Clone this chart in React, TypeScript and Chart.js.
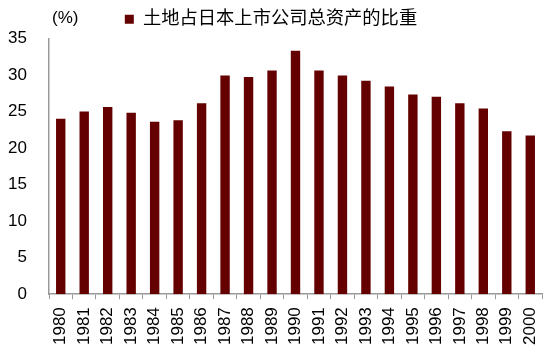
import React, { useEffect, useRef } from "react";
import { Chart, registerables } from "chart.js";

Chart.register(...registerables);

const categories = ["1980","1981","1982","1983","1984","1985","1986","1987","1988","1989","1990","1991","1992","1993","1994","1995","1996","1997","1998","1999","2000"];
const landShare = [24.0, 25.0, 25.6, 24.8, 23.6, 23.8, 26.1, 29.9, 29.7, 30.6, 33.3, 30.6, 29.9, 29.2, 28.4, 27.3, 27.0, 26.1, 25.4, 22.3, 21.7];
const seriesName = "土地占日本上市公司总资产的比重";
const unitLabel = "(%)";

const FONT = "Arial, 'Liberation Sans', 'Noto Sans CJK SC', sans-serif";

const unitPlugin = {
  id: "unitLabel",
  afterDraw(chart: any) {
    const ctx = chart.ctx;
    ctx.save();
    ctx.font = `17px ${FONT}`;
    ctx.fillStyle = "#000";
    ctx.textBaseline = "middle";
    ctx.textAlign = "left";
    ctx.fillText(unitLabel, 52, 18);
    ctx.restore();
  },
};

export default function App() {
  const ref = useRef<HTMLCanvasElement>(null);
  useEffect(() => {
    if (!ref.current) return;
    const chart = new Chart(ref.current, {
      type: "bar",
      data: {
        labels: categories,
        datasets: [
          {
            label: seriesName,
            data: landShare,
            backgroundColor: "#640000",
            borderWidth: 0,
            barPercentage: 0.4,
            categoryPercentage: 1,
          },
        ],
      },
      plugins: [unitPlugin],
      options: {
        animation: false,
        responsive: false,
        layout: { padding: { left: 0, right: 8, top: 4, bottom: 2 } },
        plugins: {
          tooltip: { enabled: false },
          legend: {
            display: true,
            position: "top",
            labels: {
              boxWidth: 9,
              boxHeight: 9,
              color: "#000",
              padding: 6,
              font: { size: 18.3, family: FONT },
            },
          },
        },
        scales: {
          x: {
            offset: true,
            grid: {
              display: true,
              offset: true,
              drawOnChartArea: false,
              drawTicks: true,
              tickLength: 5,
              color: "#999",
            },
            border: { display: true, color: "#999", width: 1.5 },
            ticks: {
              color: "#000",
              font: { size: 17, family: FONT },
              minRotation: 90,
              maxRotation: 90,
              autoSkip: false,
              padding: 8,
            },
            afterFit(scale: any) {
              scale.paddingLeft = 0;
              scale.paddingRight = 0;
            },
          },
          y: {
            min: 0,
            max: 35,
            grid: { display: false, drawTicks: false },
            border: { display: true, color: "#999", width: 1.5 },
            ticks: {
              stepSize: 5,
              color: "#000",
              font: { size: 17, family: FONT },
              padding: 22,
            },
            afterFit(scale: any) {
              scale.width = 49;
            },
          },
        },
      },
    });
    return () => chart.destroy();
  }, []);
  return (
    <div style={{ position: "fixed", left: 0, top: 0, width: 550, height: 355 }}>
      <canvas ref={ref} width={550} height={355} style={{ width: 550, height: 355 }} />
    </div>
  );
}
